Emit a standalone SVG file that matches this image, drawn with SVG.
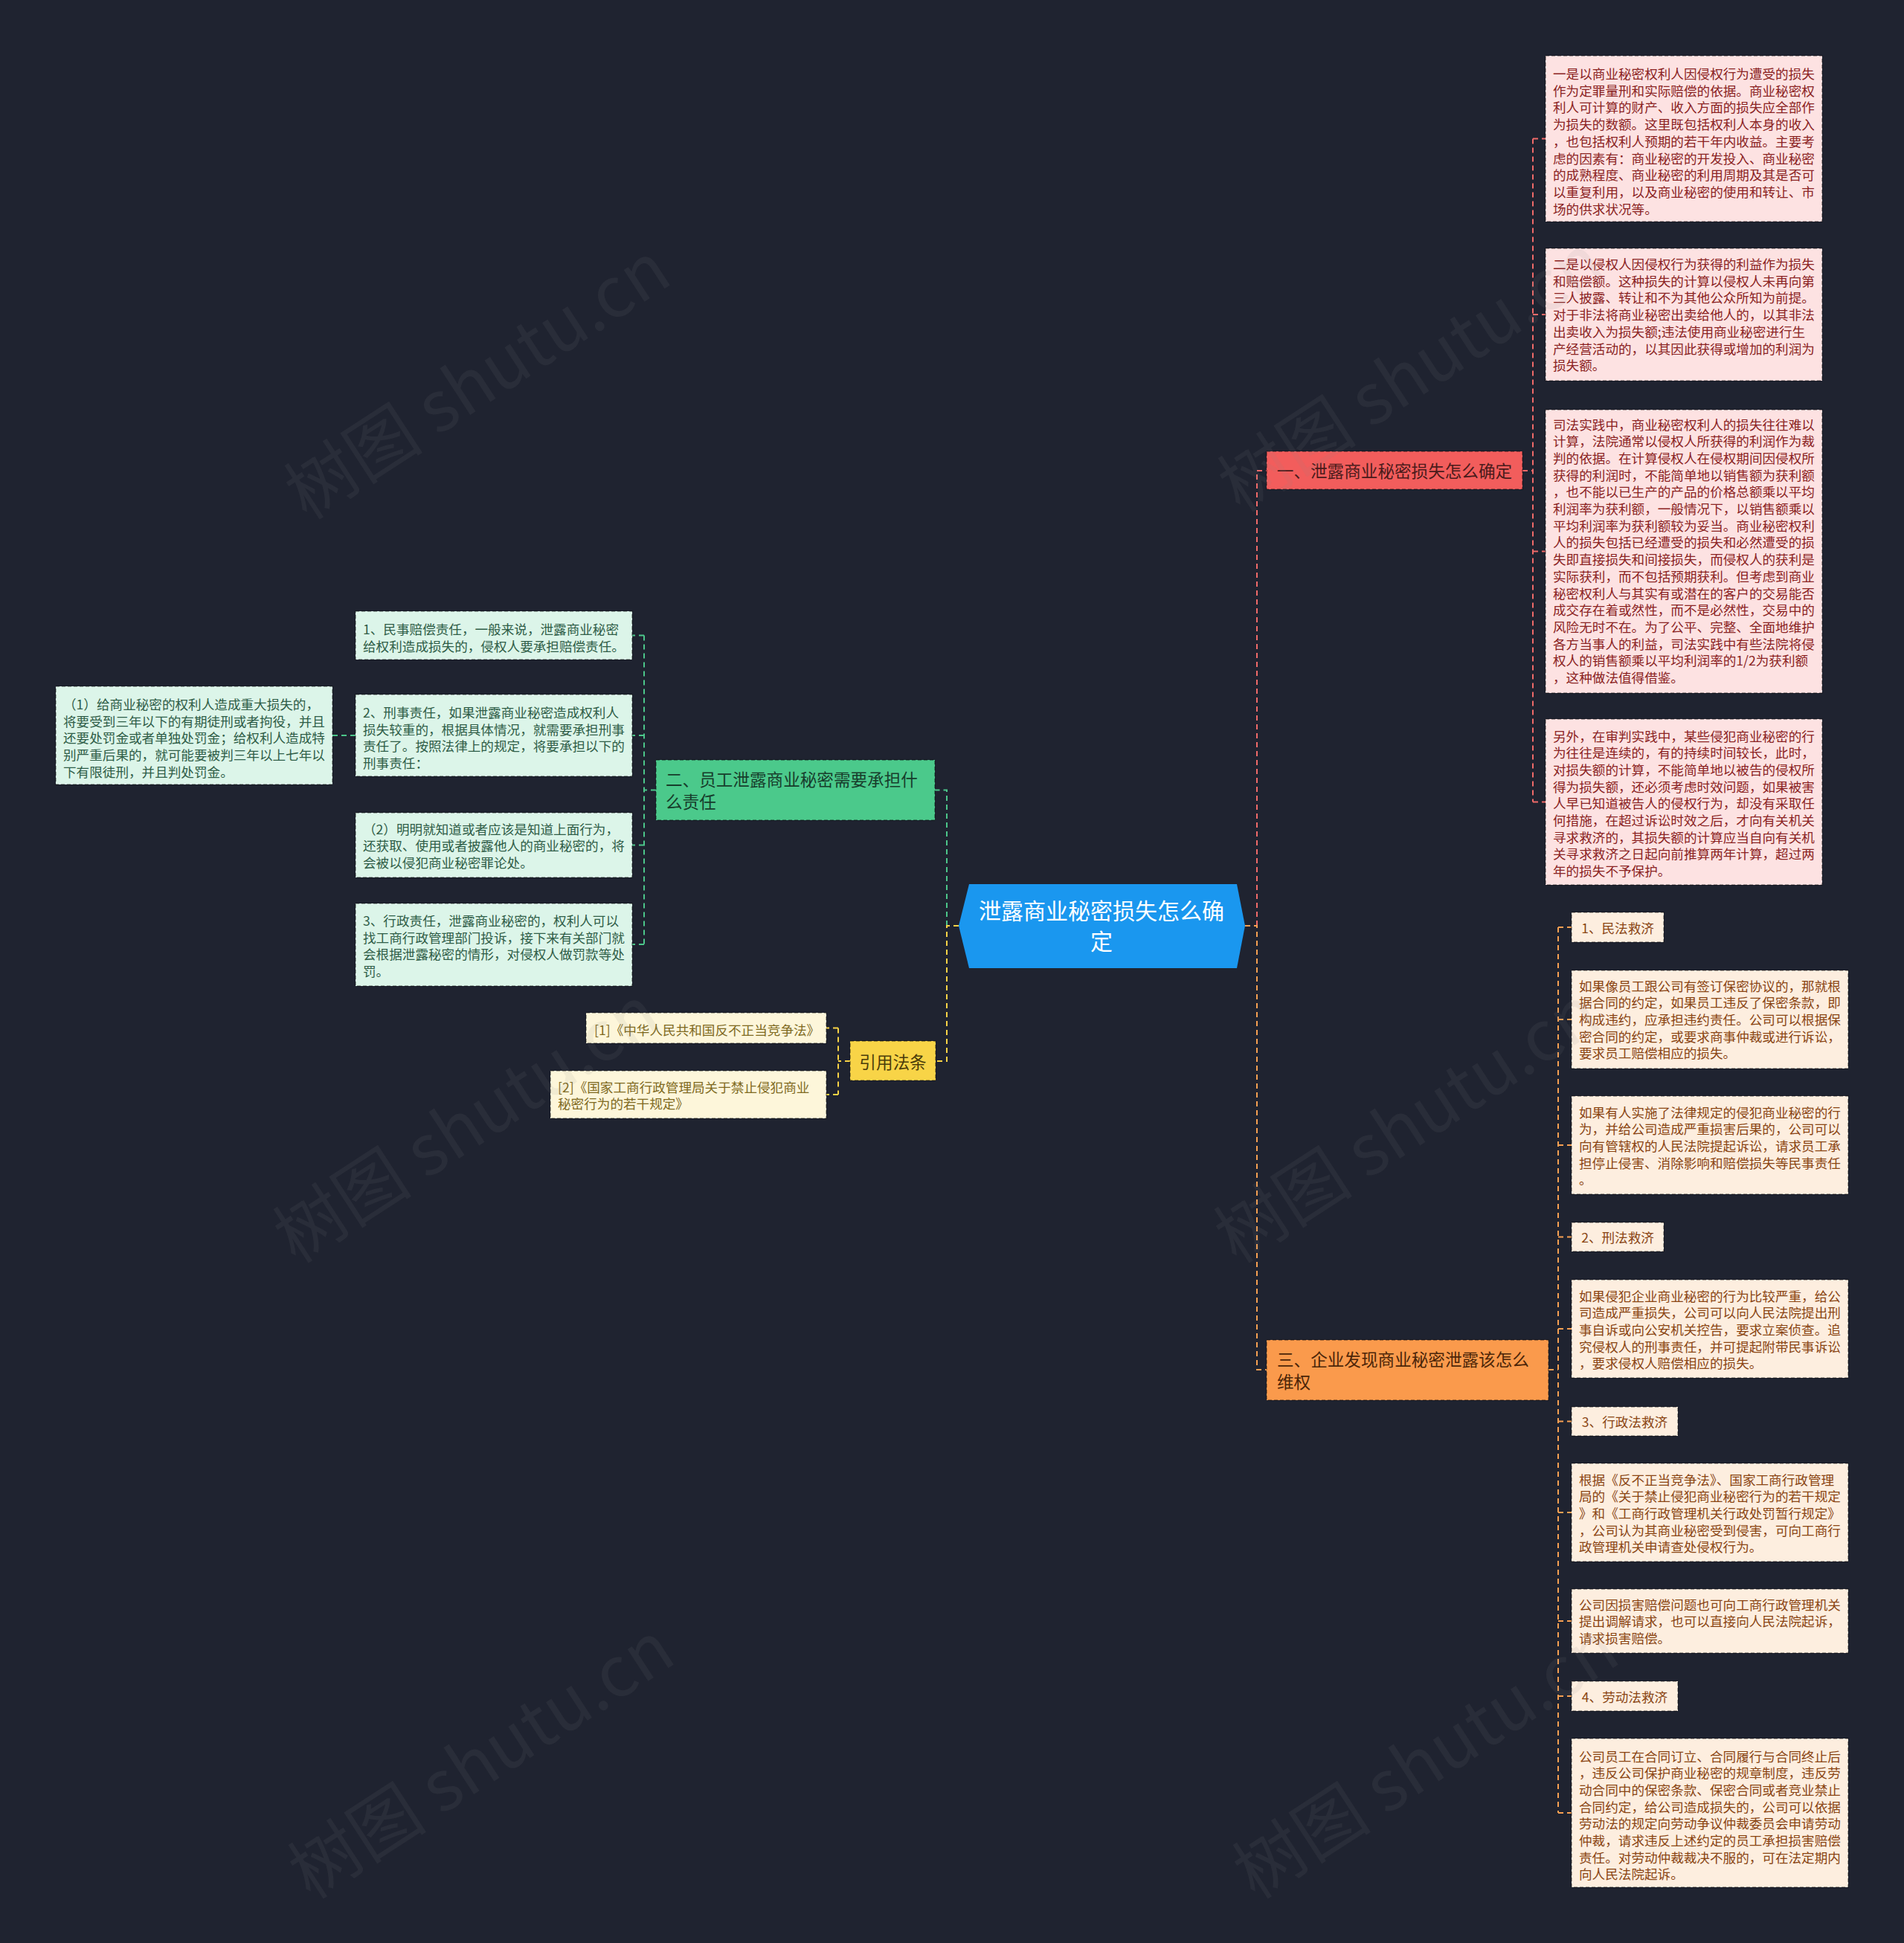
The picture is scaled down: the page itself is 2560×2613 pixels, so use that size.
<svg xmlns="http://www.w3.org/2000/svg" width="2560" height="2613" viewBox="0 0 2560 2613">
<style>
.t{font-family:"Noto Sans CJK SC","Noto Sans",sans-serif;font-size:17.6px}
.m{font-family:"Noto Sans CJK SC","Noto Sans",sans-serif;font-size:22.6px}
.box{stroke:#000;stroke-opacity:.42;stroke-width:1.5;stroke-dasharray:5 3}
.pk{fill:#fde2e2}.tpk{fill:#8b2323}
.pc{fill:#fdeedf}.tpc{fill:#8a4513}
.gn{fill:#dcf5e9}.tgn{fill:#2f5d47}
.cr{fill:#fdf6da}.tcr{fill:#7f6a1f}
.c{fill:none;stroke-width:2;stroke-dasharray:7 5}
.wm{font-family:"Noto Sans CJK SC","Noto Sans",sans-serif;font-size:94px;fill:#8c8c8c;fill-opacity:.1}
</style>
<rect width="2560" height="2613" fill="#1f2330"/>
<g id="connectors">
<path class="c" stroke="#f06a69" d="M1690 1245V633H1703M2047 633H2061M2061 186.5V1078.5M2061 186.5H2078M2061 423H2078M2061 741.5H2078M2061 1078.5H2078"/>
<path class="c" stroke="#f7a052" d="M1674 1245H1690V1842H1703M2082 1842H2095M2095 1247V2438M2095 1247H2113M2095 1371H2113M2095 1540H2113M2095 1663.5H2113M2095 1787H2113M2095 1911.5H2113M2095 2034H2113M2095 2180H2113M2095 2281H2113M2095 2438H2113"/>
<path class="c" stroke="#4cc68a" d="M1273 1245V1062.5H1257M882 1062.5H866M866 854.5V1270M866 854.5H850M866 989H850M866 1136.5H850M866 1270H850M478 989H447"/>
<path class="c" stroke="#f8d346" d="M1289 1245H1273V1427H1258M1143 1427H1127M1127 1382.5V1472M1127 1382.5H1111M1127 1472H1111"/>
</g>
<g id="center">
<polygon points="1303,1189 1663,1189 1674,1245 1663,1302 1303,1302 1289,1245" fill="#1a97ef"/>
<text font-family="Noto Sans CJK SC, Noto Sans, sans-serif" font-size="30" fill="#ffffff" text-anchor="middle"><tspan x="1481" y="1236">泄露商业秘密损失怎么确</tspan><tspan x="1481" y="1277">定</tspan></text>
</g>
<g id="n1">
<rect class="box" x="1703" y="607" width="344" height="51" fill="#f25d5c"/>
<text class="m" x="1875" y="641.5" text-anchor="middle" fill="#4a1b1b">一、泄露商业秘密损失怎么确定</text>
</g>
<g id="n2">
<rect class="box" x="882" y="1022" width="375" height="81" fill="#4bc98b"/>
<text class="m" fill="#173d2b"><tspan x="895" y="1056.5">二、员工泄露商业秘密需要承担什</tspan><tspan x="895" y="1086.5">么责任</tspan></text>
</g>
<g id="n3">
<rect class="box" x="1703" y="1802" width="379" height="81" fill="#fa9a4c"/>
<text class="m" fill="#4b2508"><tspan x="1717" y="1836.5">三、企业发现商业秘密泄露该怎么</tspan><tspan x="1717" y="1866.5">维权</tspan></text>
</g>
<g id="n4">
<rect class="box" x="1143" y="1400" width="115" height="53" fill="#f8d447"/>
<text class="m" x="1200.5" y="1436.5" text-anchor="middle" fill="#4a3c0a">引用法条</text>
</g>
<g id="p1">
<rect class="box pk" x="2078" y="75" width="372" height="223"/>
<text class="t tpk"><tspan x="2088" y="106">一是以商业秘密权利人因侵权行为遭受的损失</tspan><tspan x="2088" dy="22.7">作为定罪量刑和实际赔偿的依据。商业秘密权</tspan><tspan x="2088" dy="22.7">利人可计算的财产、收入方面的损失应全部作</tspan><tspan x="2088" dy="22.7">为损失的数额。这里既包括权利人本身的收入</tspan><tspan x="2088" dy="22.7">，也包括权利人预期的若干年内收益。主要考</tspan><tspan x="2088" dy="22.7">虑的因素有：商业秘密的开发投入、商业秘密</tspan><tspan x="2088" dy="22.7">的成熟程度、商业秘密的利用周期及其是否可</tspan><tspan x="2088" dy="22.7">以重复利用，以及商业秘密的使用和转让、市</tspan><tspan x="2088" dy="22.7">场的供求状况等。</tspan></text>
</g>
<g id="p2">
<rect class="box pk" x="2078" y="334" width="372" height="178"/>
<text class="t tpk"><tspan x="2088" y="362">二是以侵权人因侵权行为获得的利益作为损失</tspan><tspan x="2088" dy="22.7">和赔偿额。这种损失的计算以侵权人未再向第</tspan><tspan x="2088" dy="22.7">三人披露、转让和不为其他公众所知为前提。</tspan><tspan x="2088" dy="22.7">对于非法将商业秘密出卖给他人的，以其非法</tspan><tspan x="2088" dy="22.7">出卖收入为损失额;违法使用商业秘密进行生</tspan><tspan x="2088" dy="22.7">产经营活动的，以其因此获得或增加的利润为</tspan><tspan x="2088" dy="22.7">损失额。</tspan></text>
</g>
<g id="p3">
<rect class="box pk" x="2078" y="551" width="372" height="381"/>
<text class="t tpk"><tspan x="2088" y="577.5">司法实践中，商业秘密权利人的损失往往难以</tspan><tspan x="2088" dy="22.7">计算，法院通常以侵权人所获得的利润作为裁</tspan><tspan x="2088" dy="22.7">判的依据。在计算侵权人在侵权期间因侵权所</tspan><tspan x="2088" dy="22.7">获得的利润时，不能简单地以销售额为获利额</tspan><tspan x="2088" dy="22.7">，也不能以已生产的产品的价格总额乘以平均</tspan><tspan x="2088" dy="22.7">利润率为获利额，一般情况下，以销售额乘以</tspan><tspan x="2088" dy="22.7">平均利润率为获利额较为妥当。商业秘密权利</tspan><tspan x="2088" dy="22.7">人的损失包括已经遭受的损失和必然遭受的损</tspan><tspan x="2088" dy="22.7">失即直接损失和间接损失，而侵权人的获利是</tspan><tspan x="2088" dy="22.7">实际获利，而不包括预期获利。但考虑到商业</tspan><tspan x="2088" dy="22.7">秘密权利人与其实有或潜在的客户的交易能否</tspan><tspan x="2088" dy="22.7">成交存在着或然性，而不是必然性，交易中的</tspan><tspan x="2088" dy="22.7">风险无时不在。为了公平、完整、全面地维护</tspan><tspan x="2088" dy="22.7">各方当事人的利益，司法实践中有些法院将侵</tspan><tspan x="2088" dy="22.7">权人的销售额乘以平均利润率的1/2为获利额</tspan><tspan x="2088" dy="22.7">，这种做法值得借鉴。</tspan></text>
</g>
<g id="p4">
<rect class="box pk" x="2078" y="967" width="372" height="223"/>
<text class="t tpk"><tspan x="2088" y="996.5">另外，在审判实践中，某些侵犯商业秘密的行</tspan><tspan x="2088" dy="22.7">为往往是连续的，有的持续时间较长，此时，</tspan><tspan x="2088" dy="22.7">对损失额的计算，不能简单地以被告的侵权所</tspan><tspan x="2088" dy="22.7">得为损失额，还必须考虑时效问题，如果被害</tspan><tspan x="2088" dy="22.7">人早已知道被告人的侵权行为，却没有采取任</tspan><tspan x="2088" dy="22.7">何措施，在超过诉讼时效之后，才向有关机关</tspan><tspan x="2088" dy="22.7">寻求救济的，其损失额的计算应当自向有关机</tspan><tspan x="2088" dy="22.7">关寻求救济之日起向前推算两年计算，超过两</tspan><tspan x="2088" dy="22.7">年的损失不予保护。</tspan></text>
</g>
<g id="o1">
<rect class="box pc" x="2113" y="1227" width="124" height="40"/>
<text class="t tpc" x="2175" y="1254.5" text-anchor="middle">1、民法救济</text>
</g>
<g id="o2">
<rect class="box pc" x="2113" y="1305" width="372" height="132"/>
<text class="t tpc"><tspan x="2123" y="1332.5">如果像员工跟公司有签订保密协议的，那就根</tspan><tspan x="2123" dy="22.7">据合同的约定，如果员工违反了保密条款，即</tspan><tspan x="2123" dy="22.7">构成违约，应承担违约责任。公司可以根据保</tspan><tspan x="2123" dy="22.7">密合同的约定，或要求商事仲裁或进行诉讼，</tspan><tspan x="2123" dy="22.7">要求员工赔偿相应的损失。</tspan></text>
</g>
<g id="o3">
<rect class="box pc" x="2113" y="1474" width="372" height="132"/>
<text class="t tpc"><tspan x="2123" y="1502.5">如果有人实施了法律规定的侵犯商业秘密的行</tspan><tspan x="2123" dy="22.7">为，并给公司造成严重损害后果的，公司可以</tspan><tspan x="2123" dy="22.7">向有管辖权的人民法院提起诉讼，请求员工承</tspan><tspan x="2123" dy="22.7">担停止侵害、消除影响和赔偿损失等民事责任</tspan><tspan x="2123" dy="22.7">。</tspan></text>
</g>
<g id="o4">
<rect class="box pc" x="2113" y="1644" width="124" height="39"/>
<text class="t tpc" x="2175" y="1670.5" text-anchor="middle">2、刑法救济</text>
</g>
<g id="o5">
<rect class="box pc" x="2113" y="1721" width="372" height="132"/>
<text class="t tpc"><tspan x="2123" y="1749.5">如果侵犯企业商业秘密的行为比较严重，给公</tspan><tspan x="2123" dy="22.7">司造成严重损失，公司可以向人民法院提出刑</tspan><tspan x="2123" dy="22.7">事自诉或向公安机关控告，要求立案侦查。追</tspan><tspan x="2123" dy="22.7">究侵权人的刑事责任，并可提起附带民事诉讼</tspan><tspan x="2123" dy="22.7">，要求侵权人赔偿相应的损失。</tspan></text>
</g>
<g id="o6">
<rect class="box pc" x="2113" y="1892" width="143" height="39"/>
<text class="t tpc" x="2184.5" y="1918.5" text-anchor="middle">3、行政法救济</text>
</g>
<g id="o7">
<rect class="box pc" x="2113" y="1968" width="372" height="132"/>
<text class="t tpc"><tspan x="2123" y="1996.5">根据《反不正当竞争法》、国家工商行政管理</tspan><tspan x="2123" dy="22.7">局的《关于禁止侵犯商业秘密行为的若干规定</tspan><tspan x="2123" dy="22.7">》和《工商行政管理机关行政处罚暂行规定》</tspan><tspan x="2123" dy="22.7">，公司认为其商业秘密受到侵害，可向工商行</tspan><tspan x="2123" dy="22.7">政管理机关申请查处侵权行为。</tspan></text>
</g>
<g id="o8">
<rect class="box pc" x="2113" y="2137" width="372" height="86"/>
<text class="t tpc"><tspan x="2123" y="2164.5">公司因损害赔偿问题也可向工商行政管理机关</tspan><tspan x="2123" dy="22.7">提出调解请求，也可以直接向人民法院起诉，</tspan><tspan x="2123" dy="22.7">请求损害赔偿。</tspan></text>
</g>
<g id="o9">
<rect class="box pc" x="2113" y="2261" width="143" height="40"/>
<text class="t tpc" x="2184.5" y="2288.5" text-anchor="middle">4、劳动法救济</text>
</g>
<g id="o10">
<rect class="box pc" x="2113" y="2338" width="372" height="200"/>
<text class="t tpc"><tspan x="2123" y="2368.5">公司员工在合同订立、合同履行与合同终止后</tspan><tspan x="2123" dy="22.7">，违反公司保护商业秘密的规章制度，违反劳</tspan><tspan x="2123" dy="22.7">动合同中的保密条款、保密合同或者竞业禁止</tspan><tspan x="2123" dy="22.7">合同约定，给公司造成损失的，公司可以依据</tspan><tspan x="2123" dy="22.7">劳动法的规定向劳动争议仲裁委员会申请劳动</tspan><tspan x="2123" dy="22.7">仲裁，请求违反上述约定的员工承担损害赔偿</tspan><tspan x="2123" dy="22.7">责任。对劳动仲裁裁决不服的，可在法定期内</tspan><tspan x="2123" dy="22.7">向人民法院起诉。</tspan></text>
</g>
<g id="g1">
<rect class="box gn" x="478" y="822" width="372" height="65"/>
<text class="t tgn"><tspan x="488" y="853">1、民事赔偿责任，一般来说，泄露商业秘密</tspan><tspan x="488" dy="22.7">给权利造成损失的，侵权人要承担赔偿责任。</tspan></text>
</g>
<g id="g2">
<rect class="box gn" x="478" y="934" width="372" height="110"/>
<text class="t tgn"><tspan x="488" y="965">2、刑事责任，如果泄露商业秘密造成权利人</tspan><tspan x="488" dy="22.7">损失较重的，根据具体情况，就需要承担刑事</tspan><tspan x="488" dy="22.7">责任了。按照法律上的规定，将要承担以下的</tspan><tspan x="488" dy="22.7">刑事责任：</tspan></text>
</g>
<g id="g2a">
<rect class="box gn" x="75" y="923" width="372" height="132"/>
<text class="t tgn"><tspan x="85" y="954">（1）给商业秘密的权利人造成重大损失的，</tspan><tspan x="85" dy="22.7">将要受到三年以下的有期徒刑或者拘役，并且</tspan><tspan x="85" dy="22.7">还要处罚金或者单独处罚金；给权利人造成特</tspan><tspan x="85" dy="22.7">别严重后果的，就可能要被判三年以上七年以</tspan><tspan x="85" dy="22.7">下有限徒刑，并且判处罚金。</tspan></text>
</g>
<g id="g3">
<rect class="box gn" x="478" y="1093" width="372" height="87"/>
<text class="t tgn"><tspan x="488" y="1121.5">（2）明明就知道或者应该是知道上面行为，</tspan><tspan x="488" dy="22.7">还获取、使用或者披露他人的商业秘密的，将</tspan><tspan x="488" dy="22.7">会被以侵犯商业秘密罪论处。</tspan></text>
</g>
<g id="g4">
<rect class="box gn" x="478" y="1215" width="372" height="111"/>
<text class="t tgn"><tspan x="488" y="1245">3、行政责任，泄露商业秘密的，权利人可以</tspan><tspan x="488" dy="22.7">找工商行政管理部门投诉，接下来有关部门就</tspan><tspan x="488" dy="22.7">会根据泄露秘密的情形，对侵权人做罚款等处</tspan><tspan x="488" dy="22.7">罚。</tspan></text>
</g>
<g id="c1">
<rect class="box cr" x="788" y="1362" width="323" height="41"/>
<text class="t tcr" x="799" y="1391.5">[1]《中华人民共和国反不正当竞争法》</text>
</g>
<g id="c2">
<rect class="box cr" x="740" y="1440" width="371" height="64"/>
<text class="t tcr"><tspan x="750" y="1468.5">[2]《国家工商行政管理局关于禁止侵犯商业</tspan><tspan x="750" dy="22.7">秘密行为的若干规定》</tspan></text>
</g>
<g id="watermarks">
<text class="wm" text-anchor="middle" transform="translate(660 540) rotate(-33)">树图 shutu.cn</text>
<text class="wm" text-anchor="middle" transform="translate(1915 530) rotate(-33)">树图 shutu.cn</text>
<text class="wm" text-anchor="middle" transform="translate(645 1540) rotate(-33)">树图 shutu.cn</text>
<text class="wm" text-anchor="middle" transform="translate(1910 1540) rotate(-33)">树图 shutu.cn</text>
<text class="wm" text-anchor="middle" transform="translate(665 2395) rotate(-33)">树图 shutu.cn</text>
<text class="wm" text-anchor="middle" transform="translate(1935 2395) rotate(-33)">树图 shutu.cn</text>
</g>
</svg>
